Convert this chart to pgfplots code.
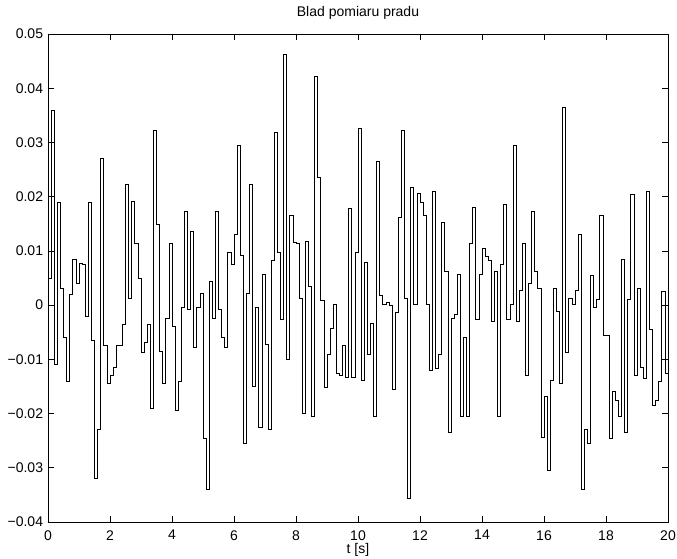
\documentclass[border=0pt]{standalone}
\usepackage{pgfplots}
\pgfplotsset{compat=1.18}
\usepackage{pgfplotstable}
\usepackage{fontspec}
\setmainfont{Liberation Sans}
\pgfplotstableread{
x y
0.0 0.005
0.1 0.036
0.2 -0.011
0.3 0.019
0.4 0.003
0.5 -0.006
0.6 -0.014
0.7 0.002
0.8 0.0085
0.9 0.004
1.0 0.0077
1.1 0.0075
1.2 -0.002
1.3 0.019
1.4 -0.0065
1.5 -0.032
1.6 -0.023
1.7 0.027
1.8 -0.0075
1.9 -0.0145
2.0 -0.013
2.1 -0.0115
2.2 -0.0075
2.3 -0.0075
2.4 -0.0035
2.5 0.0223
2.6 0.0012
2.7 0.0191
2.8 0.0114
2.9 0.005
3.0 -0.0088
3.1 -0.0069
3.2 -0.0036
3.3 -0.019
3.4 0.0322
3.5 0.0149
3.6 -0.0085
3.7 -0.0145
3.8 -0.0024
3.9 0.0114
4.0 -0.004
4.1 -0.0195
4.2 -0.014
4.3 -0.0004
4.4 0.0172
4.5 -0.0007
4.6 0.0136
4.7 -0.0078
4.8 -0.0004
4.9 0.0021
5.0 -0.0245
5.1 -0.034
5.2 0.0044
5.3 -0.0024
5.4 0.0173
5.5 -0.0008
5.6 -0.0059
5.7 -0.0078
5.8 0.0098
5.9 0.0076
6.0 0.013
6.1 0.0294
6.2 0.0092
6.3 -0.0255
6.4 0.0021
6.5 0.0223
6.6 -0.015
6.7 -0.0004
6.8 -0.0226
6.9 0.0057
7.0 -0.0072
7.1 -0.0229
7.2 0.0082
7.3 0.0319
7.4 0.0098
7.5 -0.0027
7.6 0.0463
7.7 -0.010
7.8 0.0165
7.9 0.0115
8.0 0.0114
8.1 0.0012
8.2 -0.020
8.3 0.0117
8.4 0.0034
8.5 -0.0205
8.6 0.0422
8.7 0.0236
8.8 0.0008
8.9 -0.0152
9.0 -0.0091
9.1 -0.0043
9.2 0.0002
9.3 -0.0126
9.4 -0.0129
9.5 -0.0075
9.6 -0.0133
9.7 0.0178
9.8 -0.0133
9.9 0.0098
10.0 0.0326
10.1 -0.0139
10.2 0.0079
10.3 -0.0091
10.4 -0.0033
10.5 -0.0205
10.6 0.0265
10.7 0.0018
10.8 0.0002
10.9 0.0005
11.0 -0.0001
11.1 -0.0155
11.2 -0.0014
11.3 0.0162
11.4 0.0322
11.5 0.0012
11.6 -0.0357
11.7 0.0217
11.8 0.0002
11.9 0.0207
12.0 0.019
12.1 0.0165
12.2 0.0002
12.3 -0.012
12.4 0.021
12.5 -0.0117
12.6 -0.009
12.7 0.0153
12.8 0.0063
12.9 -0.0235
13.0 -0.0024
13.1 -0.0017
13.2 0.0056
13.3 -0.0205
13.4 -0.006
13.5 -0.0205
13.6 0.0114
13.7 0.0181
13.8 -0.0027
13.9 0.0056
14.0 0.0104
14.1 0.0089
14.2 0.0082
14.3 -0.003
14.4 0.0063
14.5 -0.0205
14.6 0.0076
14.7 0.0185
14.8 -0.0027
14.9 0.0002
15.0 0.0294
15.1 -0.003
15.2 0.0028
15.3 0.0114
15.4 -0.013
15.5 0.004
15.6 0.0172
15.7 0.0063
15.8 0.0031
15.9 -0.0243
16.0 -0.0168
16.1 -0.0305
16.2 -0.0139
16.3 0.003
16.4 -0.0011
16.5 -0.0145
16.6 0.0364
16.7 -0.0088
16.8 0.0012
16.9 0.0002
17.0 0.0028
17.1 0.013
17.2 -0.034
17.3 -0.023
17.4 -0.0255
17.5 0.0055
17.6 -0.0005
17.7 0.001
17.8 0.0165
17.9 -0.0055
18.0 -0.0055
18.1 -0.0245
18.2 -0.016
18.3 -0.0175
18.4 -0.0205
18.5 0.0085
18.6 -0.0235
18.7 0.001
18.8 0.0205
18.9 -0.013
19.0 0.003
19.1 -0.0115
19.2 -0.0135
19.3 0.021
19.4 -0.0045
19.5 -0.0185
19.6 -0.0175
19.7 -0.014
19.8 0.0025
19.9 -0.0125
20.0 -0.0125
}\errdata
\begin{document}
\fontsize{10.5}{12}\selectfont
\begin{tikzpicture}
\begin{axis}[
  scale only axis,
  width=465pt, height=366pt,
  xmin=0, xmax=20, ymin=-0.04, ymax=0.05,
  scaled y ticks=false, scaled x ticks=false,
  xtick={0,2,...,20},
  xticklabels={0,2,4,6,8,10,12,14,16,18,20},
  ytick={-0.04,-0.03,-0.02,-0.01,0,0.01,0.02,0.03,0.04,0.05},
  yticklabels={−0.04,−0.03,−0.02,−0.01,0,0.01,0.02,0.03,0.04,0.05},
  tick align=inside,
  major tick length=4.5pt,
  tick style={black, line width=0.5pt},
  axis line style={black, line width=0.5pt},
  ticklabel style={font=\fontsize{10.5}{12}\selectfont},
  xticklabel style={yshift=-2.5pt},
  title={Blad pomiaru pradu},
  title style={font=\fontsize{10.5}{12}\selectfont, yshift=1pt},
  xlabel={t [s]},
  xlabel style={font=\fontsize{10.5}{12}\selectfont, yshift=5pt},
]
\addplot[const plot, black, line width=0.55pt] table[x=x, y=y] {\errdata};
\coordinate (sw) at (rel axis cs:0,0);
\coordinate (ne) at (rel axis cs:1,1);
\end{axis}
\pgfresetboundingbox
\path[use as bounding box] ([shift={(-36pt,-27.75pt)}]sw) rectangle ([shift={(6.75pt,25.5pt)}]ne);
\end{tikzpicture}
\end{document}
